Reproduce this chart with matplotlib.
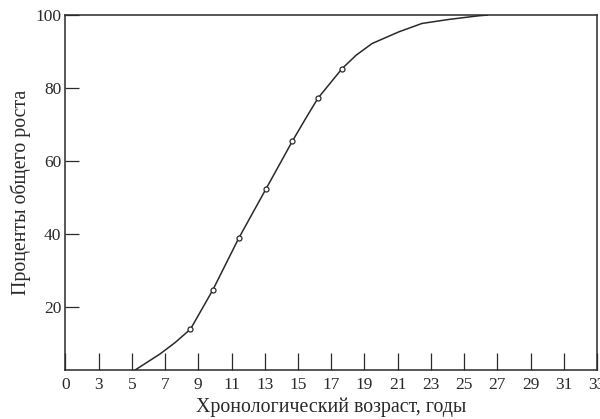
import numpy as np
import matplotlib
matplotlib.use('Agg')
import matplotlib.pyplot as plt


# Curve (age in years, percent of total growth)
curve_age = [5.2, 6.7, 7.6, 8.53, 9.87, 11.43, 13.07, 14.67, 15.47, 16.2,
             17.65, 18.5, 19.46, 21.07, 22.46, 24.07, 25.86, 26.4]
curve_pct = [2.7, 7.1, 10.2, 13.9, 24.6, 38.8, 52.3, 65.5, 71.7, 77.2,
             85.3, 89.0, 92.2, 95.4, 97.7, 98.8, 99.8, 100.0]

# Measured points (open circles)
point_age = [8.53, 9.87, 11.43, 13.07, 14.67, 16.2, 17.65]
point_pct = [13.9, 24.6, 38.8, 52.3, 65.5, 77.2, 85.3]

# Axis ticks (first label is "0" at the origin of the axis)
x_ticks = [1, 3, 5, 7, 9, 11, 13, 15, 17, 19, 21, 23, 25, 27, 29, 31, 33]
x_labels = ['0', '3', '5', '7', '9', '11', '13', '15', '17', '19', '21',
            '23', '25', '27', '29', '31', '33']
y_ticks = [20, 40, 60, 80, 100]


def main():
	plt.rcParams['font.family'] = ['Liberation Serif', 'DejaVu Serif']

	fig = plt.figure(figsize=(6.0, 4.19), dpi=100)
	ax = fig.add_axes([0.109, 0.117, 0.886, 0.847])

	# Curve and the points
	ax.plot(curve_age, curve_pct, color='#2a2a2a', lw=1.1)
	ax.plot(point_age, point_pct, 'o', ms=3.6, mfc='white', mec='#2a2a2a',
	        mew=0.9)

	# Axes limits and ticks
	ax.set_xlim(1, 33)
	ax.set_ylim(2.7, 100)
	ax.set_xticks(x_ticks)
	ax.set_xticklabels(x_labels)
	ax.set_yticks(y_ticks)
	ax.tick_params(axis='both', direction='in', width=0.9,
	               labelsize=12.5, colors='#2a2a2a')
	ax.tick_params(axis='x', length=12, pad=5)
	ax.tick_params(axis='y', length=10, pad=3)

	for sp in ax.spines.values():
		sp.set_linewidth(1.1)
		sp.set_color('#2a2a2a')

	ax.set_xlabel('Хронологический возраст, годы', fontsize=14.3,
	              color='#2a2a2a', labelpad=3)
	ax.set_ylabel('Проценты общего роста', fontsize=14.3, color='#2a2a2a',
	              labelpad=3)

	fig.savefig('out.png', dpi=100)


if __name__ == '__main__':
	main()
